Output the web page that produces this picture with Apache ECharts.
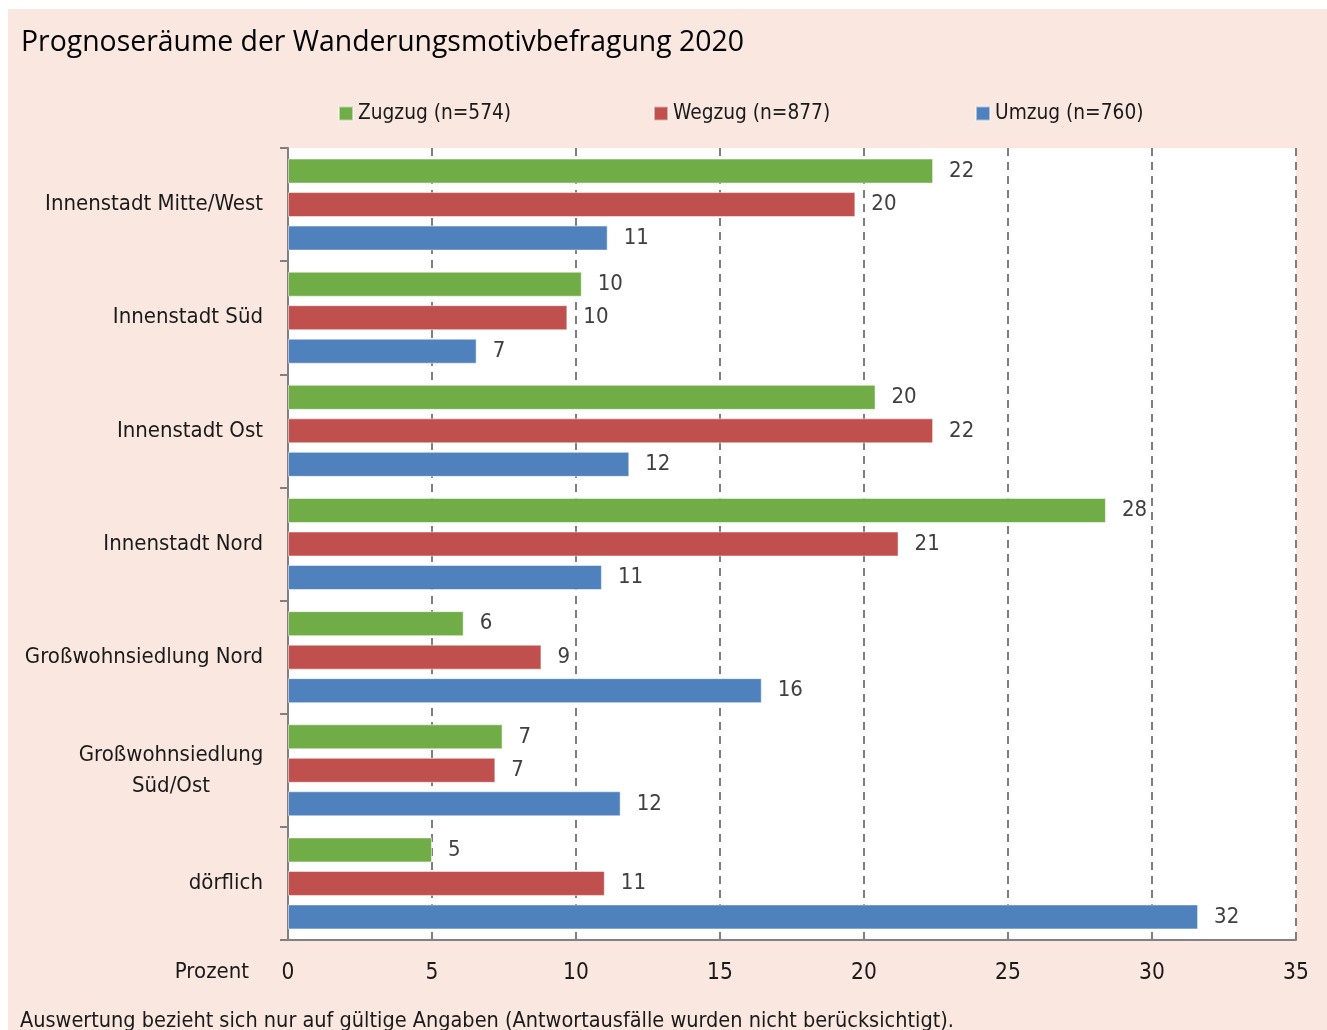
<!DOCTYPE html>
<html>
<head>
<meta charset="utf-8">
<script src="https://cdn.jsdelivr.net/npm/echarts@6/dist/echarts.min.js"></script>
<style>
html,body{margin:0;padding:0;background:#fff;}
#panel{position:absolute;left:8px;top:9px;width:1319px;height:1021px;background:#F9E7E0;}
#chart{position:absolute;left:0;top:0;width:1327px;height:1030px;}
</style>
</head>
<body>
<div id="panel"></div>
<div id="chart"></div>
<script>
var categories = ['Innenstadt Mitte/West','Innenstadt Süd','Innenstadt Ost','Innenstadt Nord','Großwohnsiedlung Nord','Großwohnsiedlung\nSüd/Ost','dörflich'];
var zugzug = [22.4, 10.2, 20.4, 28.4, 6.1, 7.45, 5.0];
var wegzug = [19.7, 9.7, 22.4, 21.2, 8.8, 7.2, 11.0];
var umzug  = [11.1, 6.55, 11.85, 10.9, 16.45, 11.55, 31.6];
var seriesNames = ['Zugzug (n=574)','Wegzug (n=877)','Umzug (n=760)'];
var xTicks = [0,5,10,15,20,25,30,35];

var FONT = "'DejaVu Sans Condensed',sans-serif";
var colors = ['#70AD47','#C0504D','#4F81BD'];

var chart = echarts.init(document.getElementById('chart'), null, {renderer:'canvas'});

function mkSeries(name, data, color){
  return {
    name: name, type: 'bar', data: data,
    barWidth: 25, barGap: '34%',
    itemStyle: {color: color, borderColor: 'rgba(255,255,255,0.5)', borderWidth: 1},
    label: {show: true, position: 'right', distance: 16, color: '#404040',
      fontFamily: FONT, fontSize: 22,
      formatter: function(p){ return Math.round(p.value); }},
    emphasis: {disabled: true}, animation: false
  };
}

var legendBase = {
  top: 103, itemWidth: 14, itemHeight: 14, itemGap: 0, padding: 0,
  icon: 'rect',
  textStyle: {fontFamily: FONT, fontSize: 20.7, color: '#1a1a1a'},
  selectedMode: false
};

chart.setOption({
  backgroundColor: 'transparent',
  animation: false,
  title: {
    text: 'Prognoseräume der Wanderungsmotivbefragung 2020',
    left: 16, top: 24,
    textStyle: {fontFamily: "'Open Sans',sans-serif", fontSize: 28.4, fontWeight: 'normal', color: '#000'}
  },
  legend: [
    Object.assign({}, legendBase, {left: 338, data: [seriesNames[0]]}),
    Object.assign({}, legendBase, {left: 653, data: [seriesNames[1]]}),
    Object.assign({}, legendBase, {left: 975, data: [seriesNames[2]]})
  ],
  grid: {left: 288, right: 31, top: 148, bottom: 90, show: true, backgroundColor: '#fff', borderWidth: 0, containLabel: false},
  xAxis: {
    type: 'value', min: 0, max: 35, interval: 5,
    axisLine: {show: true, lineStyle: {color: '#808080', width: 2}},
    axisTick: {show: false},
    axisLabel: {fontFamily: FONT, fontSize: 22.5, color: '#1a1a1a', margin: 22,
      customValues: xTicks},
    splitLine: {show: true, lineStyle: {color: '#7f7f7f', width: 2, type: [8,6]}}
  },
  yAxis: {
    type: 'category', data: categories, inverse: true,
    axisLine: {show: true, lineStyle: {color: '#808080', width: 2}},
    axisTick: {show: true, length: 8, lineStyle: {color: '#808080', width: 2}},
    axisLabel: {fontFamily: FONT, fontSize: 22, color: '#1a1a1a', margin: 25, lineHeight: 31,
      formatter: function(v){
        if (v.indexOf('\n') >= 0) {
          var parts = v.split('\n');
          return parts.map(function(s){ return '{c|' + s + '}'; }).join('\n');
        }
        return v;
      },
      rich: {c: {width: 184, align: 'center', fontFamily: FONT, fontSize: 22, color: '#1a1a1a', lineHeight: 31}}
    },
    splitLine: {show: false}
  },
  graphic: [
    {type: 'text', x: 249, y: 972, style: {text: 'Prozent', fontFamily: FONT, fontSize: 22, fill: '#1a1a1a', textAlign: 'right', textVerticalAlign: 'middle'}},
    {type: 'text', left: 20, top: 1010, style: {text: 'Auswertung bezieht sich nur auf gültige Angaben (Antwortausfälle wurden nicht berücksichtigt).', fontFamily: FONT, fontSize: 21.5, fill: '#1a1a1a'}}
  ],
  series: [
    mkSeries(seriesNames[0], zugzug, colors[0]),
    mkSeries(seriesNames[1], wegzug, colors[1]),
    mkSeries(seriesNames[2], umzug, colors[2])
  ]
});
</script>
</body>
</html>
